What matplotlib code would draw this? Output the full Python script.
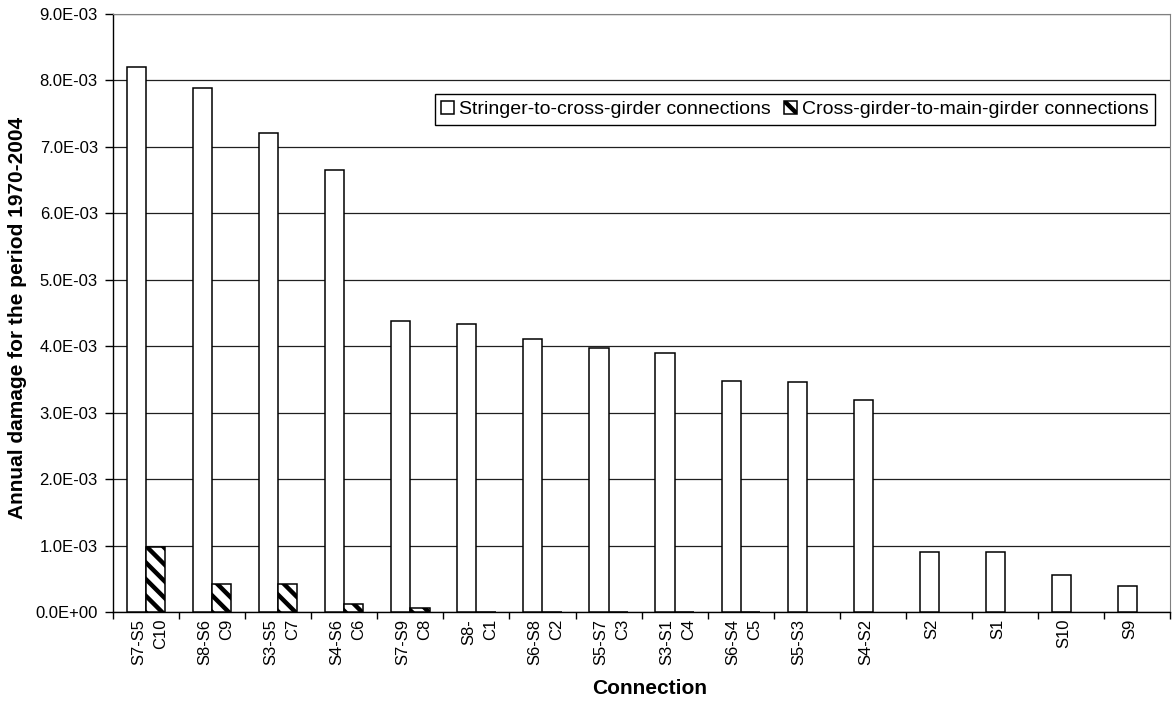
import numpy as np
import matplotlib
matplotlib.use('Agg')
import matplotlib.pyplot as plt
from matplotlib.ticker import FuncFormatter, MultipleLocator

plt.rcParams['font.family'] = ['Liberation Sans', 'DejaVu Sans']
plt.rcParams['hatch.linewidth'] = 3.2

# category labels (first line = stringer connection, second = cross-girder connection)
stringer_labels = ['S7-S5', 'S8-S6', 'S3-S5', 'S4-S6', 'S7-S9', 'S8-', 'S6-S8', 'S5-S7',
                   'S3-S1', 'S6-S4', 'S5-S3', 'S4-S2', 'S2', 'S1', 'S10', 'S9']
cross_labels = ['C10', 'C9', 'C7', 'C6', 'C8', 'C1', 'C2', 'C3', 'C4', 'C5',
                '', '', '', '', '', '']

# annual damage values
stringer_vals = [8.21e-3, 7.89e-3, 7.21e-3, 6.65e-3, 4.38e-3, 4.335e-3, 4.11e-3, 3.98e-3,
                 3.90e-3, 3.48e-3, 3.46e-3, 3.19e-3, 0.91e-3, 0.91e-3, 0.55e-3, 0.39e-3]
cross_vals = [0.98e-3, 0.42e-3, 0.42e-3, 0.12e-3, 0.06e-3, 0.0, 0.0, 0.0, 0.0, 0.0]

fig = plt.figure(figsize=(11.74, 7.05), dpi=100)
ax = fig.add_axes([0.0963, 0.1319, 0.9004, 0.8482])

n = len(stringer_vals)
idx = np.arange(n)
w = 0.29

ax.bar(idx - w, stringer_vals, w, align='edge', color='white', edgecolor='black',
       linewidth=1.1, label='Stringer-to-cross-girder connections', zorder=3)
ax.bar(idx[:len(cross_vals)], cross_vals, w, align='edge', color='white', edgecolor='black',
       hatch='\\\\', linewidth=1.1, label='Cross-girder-to-main-girder connections', zorder=3)

ax.set_xlim(-0.5, n - 0.5)
ax.set_ylim(0, 9.0e-3)

ax.yaxis.set_major_locator(MultipleLocator(1.0e-3))
ax.yaxis.set_major_formatter(FuncFormatter(lambda v, pos: '%.1E' % v))
ax.grid(axis='y', color='#202020', linewidth=0.9, zorder=0)
ax.set_axisbelow(True)

# group boundaries as tick marks, labels at group centres
ax.set_xticks(np.arange(-0.5, n, 1.0))
ax.set_xticklabels([])
ax.set_xticks(idx + 0.05, minor=True)
labels = []
for s, c in zip(stringer_labels, cross_labels):
    labels.append(s + '\n' + c)
ax.set_xticklabels(labels, minor=True, rotation=90, fontsize=12,
                   linespacing=1.55, multialignment='right')
ax.tick_params(axis='x', which='major', direction='out', length=5, width=1.0)
ax.tick_params(axis='x', which='minor', length=0, pad=5)
ax.tick_params(axis='y', direction='out', length=6, width=1.0, labelsize=12, pad=5)

for sp in ['left', 'bottom']:
    ax.spines[sp].set_color('black')
    ax.spines[sp].set_linewidth(1.0)
ax.spines['right'].set_color('#808080')
ax.spines['top'].set_color('#808080')

fig.text(0.553, (705 - 688) / 705, 'Connection', fontsize=15, fontweight='bold',
         ha='center', va='center')
fig.text(18 / 1174, (705 - 318) / 705, 'Annual damage for the period 1970-2004', fontsize=15,
         fontweight='bold', rotation=90, ha='center', va='center')

leg = ax.legend(loc='upper right', bbox_to_anchor=(0.986, 0.866), ncol=2, fontsize=14,
                frameon=True, fancybox=False, framealpha=1.0, edgecolor='black',
                handlelength=0.65, handleheight=0.65, handletextpad=0.25,
                columnspacing=0.7, borderpad=0.35, borderaxespad=0.0)
leg.get_frame().set_linewidth(1.0)

fig.savefig('out.png', dpi=100, facecolor='white')
